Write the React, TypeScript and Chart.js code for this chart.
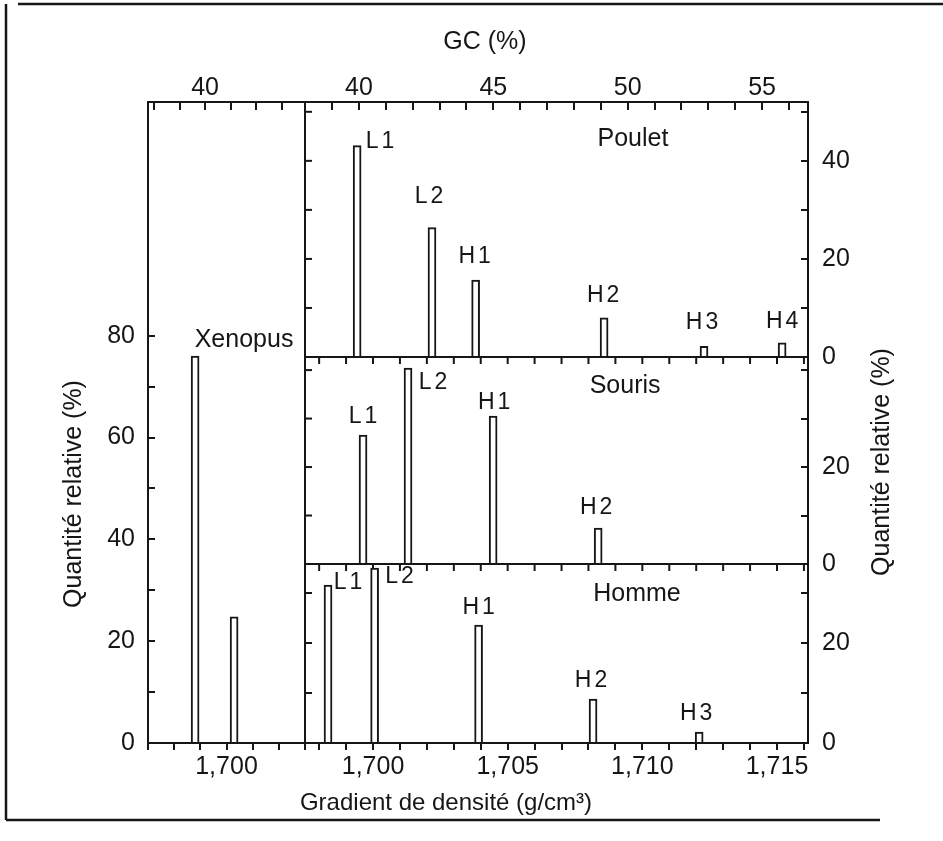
import React, { useEffect, useRef } from 'react';
import { Chart, registerables } from 'chart.js';

Chart.register(...registerables);

// ---------- data (density in g/cm3, relative amount in %) ----------
const xenopusDensity = [1.69901, 1.7005];
const xenopusAmount = [76.0, 24.8];

const pouletBands = ['L1', 'L2', 'H1', 'H2', 'H3', 'H4'];
const pouletDensity = [1.69941, 1.70219, 1.70381, 1.70858, 1.71229, 1.71519];
const pouletAmount = [43.1, 26.4, 15.7, 8.0, 2.2, 2.9];

const sourisBands = ['L1', 'L2', 'H1', 'H2'];
const sourisDensity = [1.69963, 1.7013, 1.70446, 1.70836];
const sourisAmount = [26.6, 40.4, 30.5, 7.4];

const hommeBands = ['L1', 'L2', 'H1', 'H2', 'H3'];
const hommeDensity = [1.69833, 1.70006, 1.70392, 1.70817, 1.71211];
const hommeAmount = [31.6, 35.0, 23.6, 8.8, 2.2];

// ---------- tick labels ----------
const xenopusDensityTicks = ['1,700'];
const rightDensityTicks = ['1,700', '1,705', '1,710', '1,715'];
const xenopusGcTicks = ['40'];
const rightGcTicks = ['40', '45', '50', '55'];
const xenopusAmountTicks = [0, 20, 40, 60, 80];
const pouletAmountTicks = [0, 20, 40];
const sourisAmountTicks = [0, 20];
const hommeAmountTicks = [0, 20];

// ---------- axis ranges ----------
const xenDensityRange = [1.69721, 1.70321];
const rightDensityRange = [1.697475, 1.716151];
const xenGcRange = [37.76, 43.92];
const rightGcRange = [37.99, 56.71];
const xenAmountMax = 125.9;
const pouletAmountMax = 52.0;
const sourisAmountMax = 42.7;
const hommeAmountMax = 35.8;

// ---------- styling / placement (not data) ----------
const FONT = '"Liberation Sans", Arial, Helvetica, sans-serif';
const INK = '#161616';

const BAND_LABEL_OFFSETS: Record<string, [number, number][]> = {
  Poulet: [[23, -4], [-3, -31], [-1, -23], [-1, -22], [-2, -24], [0, -21]],
  Souris: [[0, -18], [25, 15], [1, -13], [-2, -20]],
  Homme: [[20, -2], [25, 9], [0, -17], [-2, -18], [-3, -18]],
};

const PANEL_NAMES = [
  { text: 'Xenopus', xAxis: 'xXen', yAxis: 'yXen', x: 1.70088, y: 79.2 },
  { text: 'Poulet', xAxis: 'xRight', yAxis: 'yPoulet', x: 1.70965, y: 44.5 },
  { text: 'Souris', xAxis: 'xRight', yAxis: 'ySouris', x: 1.70936, y: 36.7 },
  { text: 'Homme', xAxis: 'xRight', yAxis: 'yHomme', x: 1.7098, y: 29.8 },
];

const BAND_LABELS: Record<string, string[]> = {
  Poulet: pouletBands,
  Souris: sourisBands,
  Homme: hommeBands,
};

function barDataset(label: string, xs: number[], ys: number[], xAxisID: string, yAxisID: string) {
  return {
    type: 'bar' as const,
    label,
    data: xs.map((x, i) => ({ x, y: ys[i] })),
    xAxisID,
    yAxisID,
    backgroundColor: '#ffffff',
    borderColor: INK,
    borderWidth: 2,
    barThickness: 8,
    grouped: false,
  };
}

const densityLabel = (allowed: string[]) => (v: any) => {
  const s = Number(v).toFixed(3).replace('.', ',');
  return allowed.includes(s) ? s : '';
};
const gcLabel = (allowed: string[]) => (v: any) => {
  const n = Number(v);
  const r = Math.round(n);
  return Math.abs(n - r) < 1e-6 && allowed.includes(String(r)) ? String(r) : '';
};
const amountLabel = (allowed: number[]) => (v: any) => {
  const n = Math.round(Number(v));
  return allowed.includes(n) ? String(n) : '';
};

const tickFont = { family: FONT, size: 25 };

function xAxis(range: number[], weight: number, labels: string[]) {
  return {
    type: 'linear' as const,
    position: 'bottom' as const,
    stack: 'bottom',
    stackWeight: weight,
    min: range[0],
    max: range[1],
    offset: false,
    grid: { display: true, drawOnChartArea: false, drawTicks: true, tickLength: 7, tickWidth: 2, tickColor: INK, lineWidth: 2, offset: false },
    border: { display: true, width: 2, color: INK },
    ticks: {
      stepSize: 0.001,
      includeBounds: false,
      autoSkip: false,
      maxRotation: 0,
      minRotation: 0,
      padding: 2,
      color: INK,
      font: tickFont,
      callback: densityLabel(labels),
    },
    afterFit: (s: any) => { s.height = 98; },
  };
}

function gcAxis(range: number[], weight: number, labels: string[]) {
  return {
    type: 'linear' as const,
    position: 'top' as const,
    stack: 'top',
    stackWeight: weight,
    min: range[0],
    max: range[1],
    offset: false,
    grid: { display: true, drawOnChartArea: false, drawTicks: true, tickLength: -8, tickWidth: 2, tickColor: INK, lineWidth: 2, offset: false },
    border: { display: true, width: 2, color: INK },
    ticks: {
      stepSize: 1,
      includeBounds: false,
      autoSkip: false,
      maxRotation: 0,
      minRotation: 0,
      padding: 7,
      color: INK,
      font: tickFont,
      callback: gcLabel(labels),
    },
    afterFit: (s: any) => { s.height = 102; },
  };
}

function rightAmountAxis(max: number, weight: number, labels: number[]) {
  return {
    type: 'linear' as const,
    position: 'right' as const,
    stack: 'right',
    stackWeight: weight,
    min: 0,
    max,
    grid: { display: true, drawOnChartArea: false, drawTicks: true, tickLength: -7, tickWidth: 2, tickColor: INK, lineWidth: 2 },
    border: { display: true, width: 2, color: INK },
    ticks: {
      stepSize: 10,
      includeBounds: false,
      autoSkip: false,
      padding: 21,
      color: INK,
      font: tickFont,
      callback: amountLabel(labels),
    },
    afterFit: (s: any) => { s.width = 135; },
  };
}

function line(ctx: CanvasRenderingContext2D, x1: number, y1: number, x2: number, y2: number) {
  ctx.beginPath();
  ctx.moveTo(x1, y1);
  ctx.lineTo(x2, y2);
  ctx.stroke();
}

const figurePlugin = {
  id: 'figureDecor',
  beforeDatasetsDraw(chart: any) {
    const ctx: CanvasRenderingContext2D = chart.ctx;
    const s = chart.scales;
    const xr = s.xRight;
    const area = chart.chartArea;
    ctx.save();
    ctx.strokeStyle = INK;
    ctx.lineWidth = 2;
    // divider between Xenopus panel and the stacked panels
    line(ctx, xr.left, area.top, xr.left, area.bottom);
    // inner baselines with downward ticks
    for (const id of ['yPoulet', 'ySouris']) {
      const y = s[id].getPixelForValue(0);
      line(ctx, xr.left, y, xr.right, y);
      for (const t of xr.ticks) {
        const x = xr.getPixelForValue(t.value);
        line(ctx, x, y, x, y + 7);
      }
    }
    // left-side ticks of stacked panels (pointing inward)
    for (const id of ['yPoulet', 'ySouris', 'yHomme']) {
      const sc = s[id];
      for (const t of sc.ticks) {
        if (t.value === 0) continue;
        const y = sc.getPixelForValue(t.value);
        line(ctx, xr.left, y, xr.left + 7, y);
      }
    }
    // outer frame of the figure
    ctx.lineWidth = 2.5;
    line(ctx, 18, 4, 943, 4);
    line(ctx, 6, 4, 6, 820);
    line(ctx, 6, 820, 880, 820);
    ctx.restore();
  },
  afterDraw(chart: any) {
    const ctx: CanvasRenderingContext2D = chart.ctx;
    const s = chart.scales;
    ctx.save();
    ctx.fillStyle = INK;
    ctx.textAlign = 'center';
    ctx.textBaseline = 'middle';

    // axis titles
    ctx.font = `25px ${FONT}`;
    ctx.fillText('GC (%)', 485, 42);
    ctx.font = `24px ${FONT}`;
    ctx.fillText('Gradient de densité (g/cm³)', 446, 803);
    ctx.font = `25px ${FONT}`;
    ctx.save();
    ctx.translate(74, 494);
    ctx.rotate(-Math.PI / 2);
    ctx.fillText('Quantité relative (%)', 0, 0);
    ctx.restore();
    ctx.save();
    ctx.translate(882, 462);
    ctx.rotate(-Math.PI / 2);
    ctx.fillText('Quantité relative (%)', 0, 0);
    ctx.restore();

    // panel names
    ctx.font = `25px ${FONT}`;
    for (const p of PANEL_NAMES) {
      const x = s[p.xAxis].getPixelForValue(p.x);
      const y = s[p.yAxis].getPixelForValue(p.y);
      ctx.fillText(p.text, x, y);
    }

    // band labels next to bar tops
    ctx.font = `23px ${FONT}`;
    (ctx as any).letterSpacing = '3px';
    chart.data.datasets.forEach((ds: any, di: number) => {
      const names = BAND_LABELS[ds.label];
      const offs = BAND_LABEL_OFFSETS[ds.label];
      if (!names) return;
      const meta = chart.getDatasetMeta(di);
      meta.data.forEach((el: any, j: number) => {
        const [dx, dy] = offs[j];
        ctx.fillText(names[j], el.x + dx + 1.5, el.y + dy);
      });
    });
    ctx.restore();
  },
};

export default function App() {
  const ref = useRef<HTMLCanvasElement | null>(null);

  useEffect(() => {
    if (!ref.current) return;
    const chart = new Chart(ref.current, {
      type: 'bar',
      data: {
        datasets: [
          barDataset('Xenopus', xenopusDensity, xenopusAmount, 'xXen', 'yXen'),
          barDataset('Poulet', pouletDensity, pouletAmount, 'xRight', 'yPoulet'),
          barDataset('Souris', sourisDensity, sourisAmount, 'xRight', 'ySouris'),
          barDataset('Homme', hommeDensity, hommeAmount, 'xRight', 'yHomme'),
        ] as any,
      },
      options: {
        responsive: false,
        animation: false,
        devicePixelRatio: 1,
        events: [],
        layout: { padding: 0 },
        plugins: {
          legend: { display: false },
          title: { display: false },
          tooltip: { enabled: false },
        },
        scales: {
          xXen: xAxis(xenDensityRange, 157, xenopusDensityTicks),
          xRight: xAxis(rightDensityRange, 503, rightDensityTicks),
          gcRight: gcAxis(rightGcRange, 503, rightGcTicks),
          gcXen: gcAxis(xenGcRange, 157, xenopusGcTicks),
          yXen: {
            type: 'linear',
            position: 'left',
            min: 0,
            max: xenAmountMax,
            grid: { display: true, drawOnChartArea: false, drawTicks: true, tickLength: -7, tickWidth: 2, tickColor: INK, lineWidth: 2 },
            border: { display: true, width: 2, color: INK },
            ticks: {
              stepSize: 10,
              includeBounds: false,
              autoSkip: false,
              padding: 20,
              color: INK,
              font: tickFont,
              callback: amountLabel(xenopusAmountTicks),
            },
            afterBuildTicks: (sc: any) => { sc.ticks = sc.ticks.filter((t: any) => t.value <= 80); },
            afterFit: (sc: any) => { sc.width = 148; },
          },
          yPoulet: rightAmountAxis(pouletAmountMax, 255, pouletAmountTicks),
          ySouris: rightAmountAxis(sourisAmountMax, 207, sourisAmountTicks),
          yHomme: rightAmountAxis(hommeAmountMax, 179, hommeAmountTicks),
        } as any,
      },
      plugins: [figurePlugin],
    });
    return () => chart.destroy();
  }, []);

  return (
    <div style={{ position: 'absolute', left: 0, top: 0, width: 943, height: 841, background: '#ffffff' }}>
      <canvas ref={ref} width={943} height={841} style={{ display: 'block' }} />
    </div>
  );
}
